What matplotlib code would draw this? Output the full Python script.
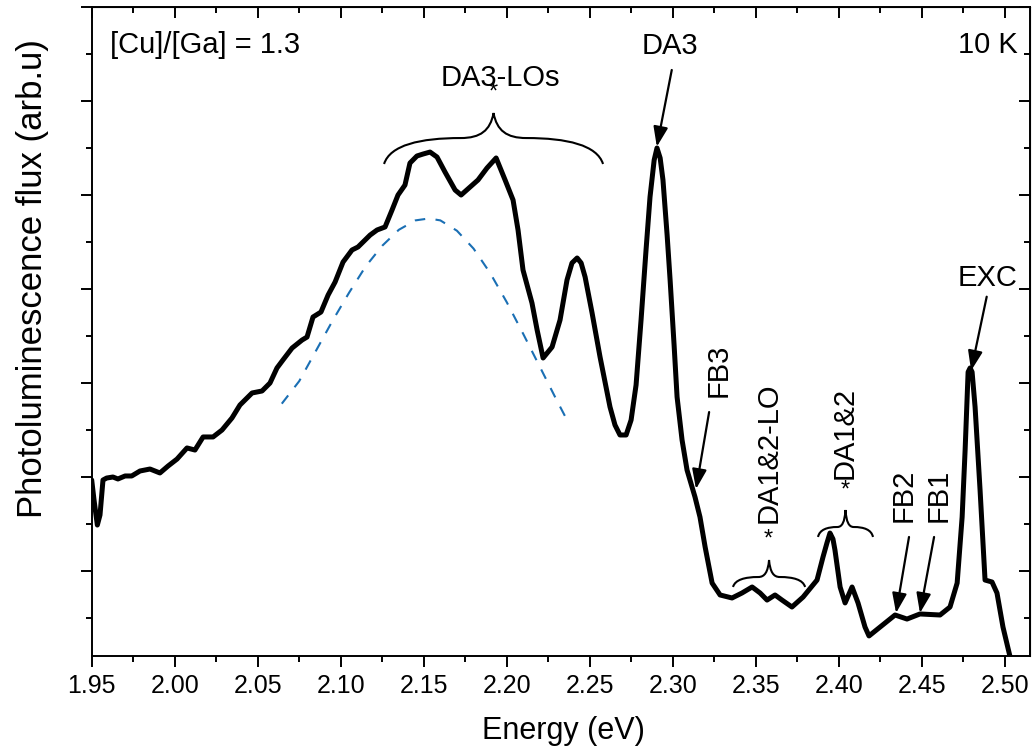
import matplotlib
matplotlib.use('Agg')
import matplotlib.pyplot as plt
from matplotlib.path import Path
from matplotlib.patches import PathPatch
from matplotlib.ticker import MultipleLocator, NullFormatter

plt.rcParams['font.family'] = ['Liberation Sans', 'DejaVu Sans']

# PL spectrum (energy in eV, flux in arb. units)
energy = [1.9500, 1.9514, 1.9534, 1.9550, 1.9568, 1.9590, 1.9628, 1.9658, 1.9701, 1.9741,
          1.9791, 1.9851, 1.9911, 1.9960, 2.0014, 2.0074, 2.0122, 2.0171, 2.0231, 2.0285,
          2.0345, 2.0393, 2.0466, 2.0526, 2.0574, 2.0616, 2.0652, 2.0707, 2.0767, 2.0797,
          2.0833, 2.0881, 2.0924, 2.0966, 2.1014, 2.1068, 2.1104, 2.1177, 2.1219, 2.1267,
          2.1309, 2.1345, 2.1387, 2.1417, 2.1459, 2.1496, 2.1538, 2.1580, 2.1628, 2.1689,
          2.1725, 2.1779, 2.1827, 2.1881, 2.1936, 2.1990, 2.2038, 2.2068, 2.2098, 2.2152,
          2.2183, 2.2219, 2.2273, 2.2321, 2.2363, 2.2393, 2.2424, 2.2448, 2.2472, 2.2514,
          2.2562, 2.2622, 2.2652, 2.2682, 2.2719, 2.2749, 2.2779, 2.2809, 2.2839, 2.2863,
          2.2888, 2.2905, 2.2924, 2.2941, 2.2966, 2.2984, 2.3008, 2.3026, 2.3056,
          2.3086, 2.3134, 2.3164, 2.3195, 2.3237, 2.3285, 2.3357, 2.3417, 2.3478, 2.3526,
          2.3568, 2.3616, 2.3658, 2.3718, 2.3785, 2.3869, 2.3905, 2.3929, 2.3947, 2.3965,
          2.3977, 2.4008, 2.4038, 2.4080, 2.4116, 2.4158, 2.4182, 2.4249, 2.4339, 2.4411,
          2.4489, 2.4610, 2.4670, 2.4713, 2.4743, 2.4761, 2.4779, 2.4791, 2.4803, 2.4821,
          2.4851, 2.4881, 2.4923, 2.4953, 2.4989, 2.5032]
flux = [0.968, 0.755, 0.489, 0.596, 0.968, 0.989, 1.000, 0.979, 1.011, 1.011,
        1.064, 1.085, 1.043, 1.117, 1.191, 1.309, 1.287, 1.426, 1.426, 1.500,
        1.628, 1.766, 1.894, 1.915, 2.000, 2.160, 2.245, 2.372, 2.457, 2.489,
        2.702, 2.755, 2.936, 3.074, 3.287, 3.415, 3.447, 3.574, 3.628, 3.660,
        3.840, 4.000, 4.106, 4.340, 4.415, 4.436, 4.457, 4.404, 4.245, 4.053,
        4.000, 4.085, 4.160, 4.287, 4.394, 4.160, 3.947, 3.628, 3.202, 2.851,
        2.564, 2.266, 2.383, 2.670, 3.096, 3.277, 3.330, 3.277, 3.128, 2.745,
        2.277, 1.745, 1.553, 1.447, 1.447, 1.606, 1.979, 2.670, 3.415, 3.979,
        4.372, 4.500, 4.394, 4.160, 3.574, 3.096, 2.404, 1.851, 1.394,
        1.074, 0.787, 0.574, 0.255, -0.128, -0.255, -0.287, -0.234, -0.170, -0.234,
        -0.309, -0.255, -0.309, -0.383, -0.277, -0.096, 0.149, 0.300, 0.404, 0.340,
        0.223, -0.170, -0.340, -0.170, -0.340, -0.596, -0.691, -0.596, -0.468, -0.511,
        -0.457, -0.468, -0.383, -0.128, 0.574, 1.287, 2.117, 2.160, 2.117, 1.745,
        0.862, -0.096, -0.117, -0.234, -0.596, -0.915]

# dashed band fitted under the DA3-LO replicas
fit_energy = [2.0645, 2.075, 2.085, 2.095, 2.105, 2.115, 2.125, 2.135, 2.145, 2.153,
              2.160, 2.170, 2.180, 2.190, 2.200, 2.210, 2.220, 2.230, 2.2365]
fit_flux = [1.78, 2.02, 2.34, 2.66, 2.96, 3.24, 3.46, 3.63, 3.73, 3.75,
            3.73, 3.62, 3.43, 3.17, 2.86, 2.52, 2.17, 1.82, 1.60]


def brace(ax, x0, x1, y0, ym, yc, lw=1.5):
    xm = (x0 + x1) / 2
    h = xm - x0
    verts = [
        (x0, y0),
        (x0 + 0.055 * h, y0 + 0.73 * (ym - y0)),
        (x0 + 0.33 * h, ym),
        (x0 + 0.7 * h, ym),
        (x0 + 0.88 * h, ym),
        (xm - 0.03 * h, ym + 0.3 * (yc - ym)),
        (xm, yc),
        (xm + 0.03 * h, ym + 0.3 * (yc - ym)),
        (x1 - 0.88 * h, ym),
        (x1 - 0.7 * h, ym),
        (x1 - 0.33 * h, ym),
        (x1 - 0.055 * h, y0 + 0.73 * (ym - y0)),
        (x1, y0),
    ]
    codes = [Path.MOVETO] + [Path.CURVE4] * 12
    ax.add_patch(PathPatch(Path(verts, codes), fill=False, lw=lw, color='k'))


def arrow(ax, start, tip):
    ax.annotate('', xy=tip, xytext=start,
                arrowprops=dict(arrowstyle='-|>,head_length=0.6,head_width=0.22',
                                mutation_scale=20, lw=1.6, color='k',
                                shrinkA=0, shrinkB=0))


fig = plt.figure(figsize=(10.35, 7.54), dpi=100)
ax = fig.add_axes([0.0886, 0.1300, 0.9066, 0.8607])

ax.plot(energy, flux, color='black', lw=3.6, solid_joinstyle='round', solid_capstyle='round')
ax.plot(fit_energy, fit_flux, color='#1a6fb4', lw=1.5, ls=(0, (5, 5)))

ax.set_xlim(1.95, 2.5152)
ax.set_ylim(-0.904, 6.0)

ax.xaxis.set_major_locator(MultipleLocator(0.05))
ax.xaxis.set_minor_locator(MultipleLocator(0.025))
ax.yaxis.set_major_locator(MultipleLocator(1.0))
ax.yaxis.set_minor_locator(MultipleLocator(0.5))
ax.yaxis.set_major_formatter(NullFormatter())
ax.tick_params(which='both', direction='out', width=1.4, labelsize=18, pad=5)
ax.tick_params(which='major', length=8)
ax.tick_params(which='minor', length=4.5)
for sp in ax.spines.values():
    sp.set_linewidth(1.4)

top = ax.secondary_xaxis('top')
top.xaxis.set_major_locator(MultipleLocator(0.05))
top.xaxis.set_minor_locator(MultipleLocator(0.025))
top.tick_params(which='both', direction='in', width=1.4, labeltop=False)
top.tick_params(which='major', length=8)
top.tick_params(which='minor', length=4.5)
right = ax.secondary_yaxis('right')
right.yaxis.set_major_locator(MultipleLocator(1.0))
right.yaxis.set_minor_locator(MultipleLocator(0.5))
right.tick_params(which='both', direction='in', width=1.4, labelright=False)
right.tick_params(which='major', length=8)
right.tick_params(which='minor', length=4.5)

ax.set_xlabel('Energy (eV)', fontsize=22)
ax.set_ylabel('Photoluminescence flux (arb.u)', fontsize=25)
ax.xaxis.set_label_coords(0.503, -0.093)
ax.yaxis.set_label_coords(-0.045, 0.582)

fs = 21
ax.text(0.0195, 0.941, '[Cu]/[Ga] = 1.3', transform=ax.transAxes, fontsize=fs, va='center', ha='left')
ax.text(0.987, 0.941, '10 K', transform=ax.transAxes, fontsize=fs, va='center', ha='right')

ax.text(2.196, 5.25, 'DA3-LOs', fontsize=fs, ha='center', va='center')
ax.text(2.1918, 5.09, '*', fontsize=17, ha='center', va='center')
brace(ax, 2.1261, 2.2580, 4.330, 4.606, 4.872)

ax.text(2.2985, 5.585, 'DA3', fontsize=fs, ha='center', va='center')
arrow(ax, (2.2994, 5.33), (2.2904, 4.514))

ax.text(2.3274, 2.138, 'FB3', fontsize=fs, rotation=90, ha='center', va='center')
arrow(ax, (2.3219, 1.691), (2.3140, 0.872))

ax.text(2.3577, 1.255, 'DA1&2-LO', fontsize=fs, rotation=90, ha='center', va='center')
ax.text(2.3574, 0.33, '*', fontsize=17, ha='center', va='center')
brace(ax, 2.3363, 2.3797, -0.170, -0.064, 0.117)

ax.text(2.4038, 1.468, 'DA1&2', fontsize=fs, rotation=90, ha='center', va='center')
ax.text(2.4038, 0.86, '*', fontsize=17, ha='center', va='center')
brace(ax, 2.3875, 2.4206, 0.362, 0.468, 0.649)

ax.text(2.4390, 0.809, 'FB2', fontsize=fs, rotation=90, ha='center', va='center')
arrow(ax, (2.4423, 0.362), (2.4345, -0.447))
ax.text(2.4601, 0.809, 'FB1', fontsize=fs, rotation=90, ha='center', va='center')
arrow(ax, (2.4574, 0.362), (2.4489, -0.447))

ax.text(2.4896, 3.117, 'EXC', fontsize=fs, ha='center', va='center')
arrow(ax, (2.4891, 2.918), (2.4797, 2.131))

fig.savefig('out.png', dpi=100)
